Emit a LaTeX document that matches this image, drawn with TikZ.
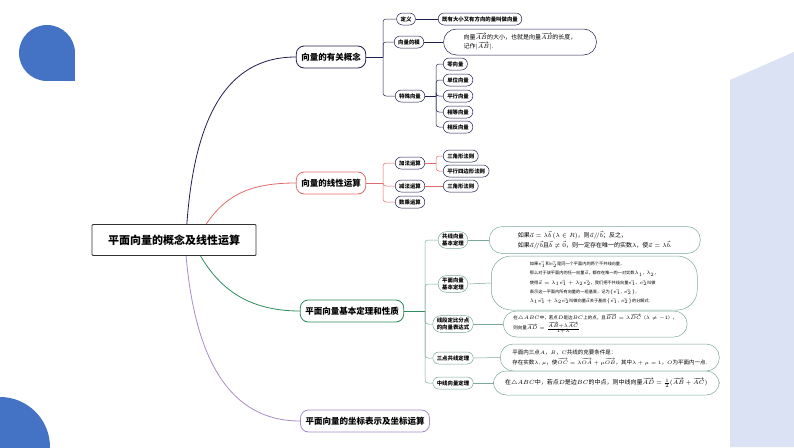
\documentclass[tikz,border=0pt]{standalone}
\usepackage{fontspec}
\setmainfont{Noto Sans CJK SC}
\usepackage{amsmath,amssymb}
\begin{document}
\begin{tikzpicture}[x=1pt,y=-1pt,
  root/.style={draw=black!80,line width=0.9pt,rounded corners=1pt,font=\bfseries\fontsize{11}{13}\selectfont,minimum width=164pt,minimum height=31pt,fill=white},
  lvl/.style={rounded corners=8pt,line width=0.8pt,font=\bfseries\fontsize{8.5}{10}\selectfont,minimum height=22pt,inner xsep=5pt,fill=white},
  pill/.style={draw=#1,rounded corners=6pt,line width=0.5pt,font=\bfseries\fontsize{5.4}{6}\selectfont,minimum height=12pt,inner xsep=4pt,inner ysep=1pt,fill=white},
  two/.style={draw=#1,rounded corners=8pt,line width=0.5pt,font=\bfseries\fontsize{5.4}{7.5}\selectfont,align=center,inner xsep=4pt,inner ysep=2pt,fill=white},
  bub/.style={draw=#1,rounded corners=13pt,line width=0.5pt,align=left,inner xsep=10pt,fill=white},
  br/.style={line width=0.5pt,rounded corners=3pt},
]
\definecolor{navyc}{HTML}{1F2050}
\definecolor{redc}{HTML}{E06B6B}
\definecolor{greenc}{HTML}{2E8B5E}
\definecolor{purc}{HTML}{A88BC8}
\definecolor{bluec}{HTML}{4472C4}
\definecolor{palec}{HTML}{DAE2F3}
\definecolor{bgreen}{HTML}{7BA899}
\useasboundingbox (0,0) rectangle (794,447);
% background
\fill[palec] (730,80) -- (794,52) -- (794,447) -- (730,447) -- cycle;
\fill[bluec] (47,53) circle (28);
\fill[bluec] (47,53) rectangle (75,81);
\begin{scope}
\clip (0,0) rectangle (794,447);
\fill[bluec] (0,447) circle (50);
\end{scope}
% level 1
\node[lvl,draw=navyc] (a) at (331,57) {向量的有关概念};
\node[lvl,draw=redc] (b) at (331,183) {向量的线性运算};
\node[lvl,draw=greenc] (c) at (352,311) {平面向量基本定理和性质};
\node[lvl,draw=purc] (d) at (365,421) {平面向量的坐标表示及坐标运算};
\coordinate (ra) at (186,238);
\coordinate (rb) at (205,226);
\coordinate (rc) at (200,255);
\coordinate (rd) at (186,255);
\draw[navyc,line width=0.8pt] (ra) .. controls (192,120) and (225,57) .. (a.west);
\draw[redc,line width=0.8pt] (rb) .. controls (225,195) and (250,183) .. (b.west);
\draw[greenc,line width=0.8pt] (rc) .. controls (220,290) and (250,311) .. (c.west);
\draw[purc,line width=0.8pt] (rd) .. controls (195,360) and (230,421) .. (d.west);
\node[root] (r) at (174,240) {平面向量的概念及线性运算};
% A children
\node[pill=navyc] (a1) at (406,19) {定义};
\node[pill=navyc] (a11) at (480,19) {既有大小又有方向的量叫做向量};
\node[pill=navyc] (a2) at (409,42) {向量的模};
\node[bub=navyc,minimum width=153pt,minimum height=26pt,font=\fontsize{6}{9}\selectfont] (a21) at (520,42) {向量$\overrightarrow{AB}$的大小，也就是向量$\overrightarrow{AB}$的长度，\\记作$|\overrightarrow{AB}|$.};
\node[pill=navyc] (a3) at (410,96) {特殊向量};
\foreach \n/\t/\y in {s1/零向量/64,s2/单位向量/80,s3/平行向量/96,s4/相等向量/112,s5/相反向量/127}
  \node[pill=navyc,anchor=west] (\n) at (443,\y) {\t};
\coordinate (ja) at (383,57);
\draw[navyc,br] (a.east) -- (ja);
\foreach \n in {a1,a2,a3} \draw[navyc,br] (ja) |- (\n.west);
\draw[navyc,br] (a1.east) -- (a11.west);
\draw[navyc,br] (a2.east) -- (a21.west);
\coordinate (js) at (436,96);
\draw[navyc,br] (a3.east) -- (js);
\foreach \n in {s1,s2,s3,s4,s5} \draw[navyc,br] (js) |- (\n.west);
% B children
\node[pill=navyc] (b1) at (410,163) {加法运算};
\node[pill=navyc] (b2) at (410,186) {减法运算};
\node[pill=navyc] (b3) at (410,202) {数乘运算};
\node[pill=navyc,anchor=west] (b11) at (443,156) {三角形法则};
\node[pill=navyc,anchor=west] (b12) at (443,171) {平行四边形法则};
\node[pill=navyc,anchor=west] (b21) at (443,186) {三角形法则};
\coordinate (jb) at (383,183);
\draw[redc,br] (b.east) -- (jb);
\foreach \n in {b1,b2,b3} \draw[redc,br] (jb) |- (\n.west);
\coordinate (jb1) at (436,163);
\draw[redc,br] (b1.east) -- (jb1);
\foreach \n in {b11,b12} \draw[redc,br] (jb1) |- (\n.west);
\draw[redc,br] (b2.east) -- (b21.west);
% C children
\node[two=bgreen] (c1) at (453,240) {共线向量\\基本定理};
\node[two=bgreen] (c2) at (453,284) {平面向量\\基本定理};
\node[two=bgreen] (c3) at (453,324) {线段定比分点\\的向量表达式};
\node[pill=bgreen] (c4) at (453,358) {三点共线定理};
\node[pill=bgreen] (c5) at (453,383) {中线向量定理};
\node[bub=bgreen,anchor=west,minimum width=211pt,minimum height=27pt,font=\fontsize{6}{10}\selectfont] (c11) at (489,240)
 {如果$\vec a=\lambda\vec b\,(\lambda\in R)$，则$\vec a/\!/\vec b$；反之，\\如果$\vec a/\!/\vec b$且$\vec b\neq\vec 0$，则一定存在唯一的实数$\lambda$，使$\vec a=\lambda\vec b$.};
\node[bub=bgreen,anchor=west,minimum width=206pt,minimum height=54pt,rounded corners=20pt,font=\fontsize{4.2}{9.2}\selectfont] (c21) at (491,283)
 {如果$\vec{e_1}$和$\vec{e_2}$是同一个平面内的两个不共线向量，\\那么对于该平面内的任一向量$\vec a$，都存在唯一的一对实数$\lambda_1,\lambda_2$，\\使得$\vec a=\lambda_1\vec{e_1}+\lambda_2\vec{e_2}$，我们把不共线向量$\vec{e_1}$、$\vec{e_2}$叫做\\表示这一平面内所有向量的一组基底，记为$\{\vec{e_1},\vec{e_2}\}$，\\$\lambda_1\vec{e_1}+\lambda_2\vec{e_2}$叫做向量$\vec a$关于基底$\{\vec{e_1},\vec{e_2}\}$的分解式.};
\node[bub=bgreen,anchor=west,minimum width=177pt,minimum height=26pt,font=\fontsize{4.5}{10}\selectfont] (c31) at (503,324)
 {在$\triangle ABC$中，若点$D$是边$BC$上的点，且$\overrightarrow{BD}=\lambda\overrightarrow{DC}$（$\lambda\neq-1$），\\则向量$\overrightarrow{AD}=\frac{\overrightarrow{AB}+\lambda\overrightarrow{AC}}{1+\lambda}$};
\node[bub=bgreen,anchor=west,minimum width=219pt,minimum height=27pt,font=\fontsize{5.5}{10}\selectfont] (c41) at (500,357.5)
 {平面内三点$A$，$B$，$C$共线的充要条件是：\\存在实数$\lambda,\mu$，使$\overrightarrow{OC}=\lambda\overrightarrow{OA}+\mu\overrightarrow{OB}$，其中$\lambda+\mu=1$，$O$为平面内一点.};
\node[bub=bgreen,anchor=west,minimum width=226pt,minimum height=24pt,font=\fontsize{6}{8}\selectfont] (c51) at (493,383)
 {在$\triangle ABC$中，若点$D$是边$BC$的中点，则中线向量$\overrightarrow{AD}=\frac12(\overrightarrow{AB}+\overrightarrow{AC})$};
\coordinate (jc) at (425,311);
\draw[greenc,br] (c.east) -- (jc);
\foreach \n in {c1,c2,c3,c4,c5} \draw[bgreen,br] (jc) |- (\n.west);
\foreach \n in {1,2,3,4,5} \draw[bgreen,br] (c\n.east) -- (c\n1.west);
\end{tikzpicture}
\end{document}
